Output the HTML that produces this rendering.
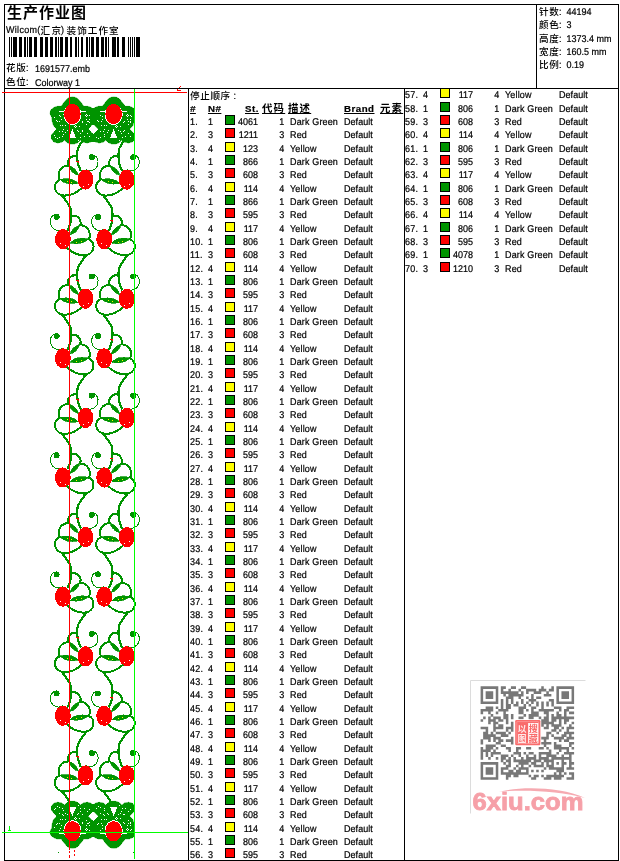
<!DOCTYPE html>
<html><head><meta charset="utf-8"><title>生产作业图</title>
<style>
html,body{margin:0;padding:0;background:#fff}
body{width:620px;height:861px;position:relative;overflow:hidden;font-family:"Liberation Sans","Noto Serif CJK SC",sans-serif;font-size:9px;color:#000;-webkit-text-stroke:0.2px #000}
.ln{position:absolute;background:#000}
.t{position:absolute;white-space:nowrap;line-height:12px}
.l{display:inline-block;transform:scaleY(1.09) rotate(0.03deg);transform-origin:0 9.4px;white-space:pre}
.cj{font-family:"Liberation Sans","Noto Sans CJK SC","Noto Serif CJK SC",sans-serif;font-size:9.6px;font-weight:500;letter-spacing:0.6px;-webkit-text-stroke:0}
.r{position:absolute;height:12px;width:215px;line-height:12px;white-space:nowrap}
.r span{position:absolute;top:0;transform:scaleY(1.09) rotate(0.03deg);transform-origin:0 9.4px}
.a{left:190px;letter-spacing:0.3px}.b{left:207.5px}.c{left:232.7px;width:25px;text-align:right}.d{left:268px;width:16.3px;text-align:right}
.e{left:289.6px;letter-spacing:0.15px}.f{left:344.4px;letter-spacing:0.05px}
.s{position:absolute;left:225px;top:-1px;width:8px;height:8px;border:1px solid #000}
.g{background:#009400}.rd{background:#f00}.y{background:#ff0}
.h{position:absolute;top:103px;font-weight:bold;font-size:9.7px;text-decoration:underline;line-height:12px;white-space:nowrap;letter-spacing:0.5px}
.h.cj{font-size:10.4px;letter-spacing:1.2px;font-weight:700;top:103px}
svg{position:absolute;left:0;top:0}
</style></head><body>
<div class="ln" style="left:4px;top:4px;width:615px;height:1px"></div>
<div class="ln" style="left:4px;top:860px;width:615px;height:1px"></div>
<div class="ln" style="left:4px;top:4px;width:1px;height:857px"></div>
<div class="ln" style="left:618px;top:4px;width:1px;height:857px"></div>
<div class="ln" style="left:4px;top:88px;width:615px;height:1px"></div>
<div class="ln" style="left:536px;top:4px;width:1px;height:84px"></div>
<div class="ln" style="left:188px;top:88px;width:1px;height:772px"></div>
<div class="ln" style="left:404px;top:88px;width:1px;height:772px"></div>

<div class="t" style="left:7px;top:3px;font:bold 15px/20px 'Liberation Sans','Noto Sans CJK SC','Noto Serif CJK SC',sans-serif;letter-spacing:1px;-webkit-text-stroke:0">生产作业图</div>
<div class="t" style="left:6px;top:24px"><span class="l" style="letter-spacing:0.3px">Wilcom(</span></div>
<div class="t" style="left:40.5px;top:25px"><span class="cj" style="letter-spacing:1.4px">汇京</span></div>
<div class="t" style="left:60.5px;top:24px"><span class="l">)</span></div>
<div class="t" style="left:66.5px;top:25px"><span class="cj" style="letter-spacing:1.05px">装饰工作室</span></div>
<div class="t" style="left:6px;top:62px"><span class="cj">花版</span><span class="l">:</span></div>
<div class="t" style="left:35px;top:63px"><span class="l">1691577.emb</span></div>
<div class="t" style="left:6px;top:76px"><span class="cj">色位</span><span class="l">:</span></div>
<div class="t" style="left:35px;top:77px"><span class="l">Colorway 1</span></div>

<div class="t" style="left:539px;top:6px"><span class="cj">针数</span><span class="l">:  44194</span></div>
<div class="t" style="left:539px;top:19px"><span class="cj">颜色</span><span class="l">:  3</span></div>
<div class="t" style="left:539px;top:33px"><span class="cj">高度</span><span class="l">:  1373.4 mm</span></div>
<div class="t" style="left:539px;top:46px"><span class="cj">宽度</span><span class="l">:  160.5 mm</span></div>
<div class="t" style="left:539px;top:59px"><span class="cj">比例</span><span class="l">:  0.19</span></div>

<div class="t" style="left:190px;top:90px"><span class="cj">停止顺序</span><span class="l"> :</span></div>
<div class="h" style="left:190px;font-style:italic">#</div>
<div class="h" style="left:208px">N#</div>
<div class="h" style="left:245px">St.</div>
<div class="h cj" style="left:262px">代码</div>
<div class="h cj" style="left:288px">描述</div>
<div class="h" style="left:344px">Brand</div>
<div class="h cj" style="left:380px">元素</div>

<div class="r" style="left:0px;top:116px"><span class="a">1.</span><span class="b">1</span><i class="s g"></i><span class="c">4061</span><span class="d">1</span><span class="e">Dark Green</span><span class="f">Default</span></div>
<div class="r" style="left:0px;top:129px"><span class="a">2.</span><span class="b">3</span><i class="s rd"></i><span class="c">1211</span><span class="d">3</span><span class="e">Red</span><span class="f">Default</span></div>
<div class="r" style="left:0px;top:143px"><span class="a">3.</span><span class="b">4</span><i class="s y"></i><span class="c">123</span><span class="d">4</span><span class="e">Yellow</span><span class="f">Default</span></div>
<div class="r" style="left:0px;top:156px"><span class="a">4.</span><span class="b">1</span><i class="s g"></i><span class="c">866</span><span class="d">1</span><span class="e">Dark Green</span><span class="f">Default</span></div>
<div class="r" style="left:0px;top:169px"><span class="a">5.</span><span class="b">3</span><i class="s rd"></i><span class="c">608</span><span class="d">3</span><span class="e">Red</span><span class="f">Default</span></div>
<div class="r" style="left:0px;top:183px"><span class="a">6.</span><span class="b">4</span><i class="s y"></i><span class="c">114</span><span class="d">4</span><span class="e">Yellow</span><span class="f">Default</span></div>
<div class="r" style="left:0px;top:196px"><span class="a">7.</span><span class="b">1</span><i class="s g"></i><span class="c">866</span><span class="d">1</span><span class="e">Dark Green</span><span class="f">Default</span></div>
<div class="r" style="left:0px;top:209px"><span class="a">8.</span><span class="b">3</span><i class="s rd"></i><span class="c">595</span><span class="d">3</span><span class="e">Red</span><span class="f">Default</span></div>
<div class="r" style="left:0px;top:223px"><span class="a">9.</span><span class="b">4</span><i class="s y"></i><span class="c">117</span><span class="d">4</span><span class="e">Yellow</span><span class="f">Default</span></div>
<div class="r" style="left:0px;top:236px"><span class="a">10.</span><span class="b">1</span><i class="s g"></i><span class="c">806</span><span class="d">1</span><span class="e">Dark Green</span><span class="f">Default</span></div>
<div class="r" style="left:0px;top:249px"><span class="a">11.</span><span class="b">3</span><i class="s rd"></i><span class="c">608</span><span class="d">3</span><span class="e">Red</span><span class="f">Default</span></div>
<div class="r" style="left:0px;top:263px"><span class="a">12.</span><span class="b">4</span><i class="s y"></i><span class="c">114</span><span class="d">4</span><span class="e">Yellow</span><span class="f">Default</span></div>
<div class="r" style="left:0px;top:276px"><span class="a">13.</span><span class="b">1</span><i class="s g"></i><span class="c">806</span><span class="d">1</span><span class="e">Dark Green</span><span class="f">Default</span></div>
<div class="r" style="left:0px;top:289px"><span class="a">14.</span><span class="b">3</span><i class="s rd"></i><span class="c">595</span><span class="d">3</span><span class="e">Red</span><span class="f">Default</span></div>
<div class="r" style="left:0px;top:303px"><span class="a">15.</span><span class="b">4</span><i class="s y"></i><span class="c">117</span><span class="d">4</span><span class="e">Yellow</span><span class="f">Default</span></div>
<div class="r" style="left:0px;top:316px"><span class="a">16.</span><span class="b">1</span><i class="s g"></i><span class="c">806</span><span class="d">1</span><span class="e">Dark Green</span><span class="f">Default</span></div>
<div class="r" style="left:0px;top:329px"><span class="a">17.</span><span class="b">3</span><i class="s rd"></i><span class="c">608</span><span class="d">3</span><span class="e">Red</span><span class="f">Default</span></div>
<div class="r" style="left:0px;top:343px"><span class="a">18.</span><span class="b">4</span><i class="s y"></i><span class="c">114</span><span class="d">4</span><span class="e">Yellow</span><span class="f">Default</span></div>
<div class="r" style="left:0px;top:356px"><span class="a">19.</span><span class="b">1</span><i class="s g"></i><span class="c">806</span><span class="d">1</span><span class="e">Dark Green</span><span class="f">Default</span></div>
<div class="r" style="left:0px;top:369px"><span class="a">20.</span><span class="b">3</span><i class="s rd"></i><span class="c">595</span><span class="d">3</span><span class="e">Red</span><span class="f">Default</span></div>
<div class="r" style="left:0px;top:383px"><span class="a">21.</span><span class="b">4</span><i class="s y"></i><span class="c">117</span><span class="d">4</span><span class="e">Yellow</span><span class="f">Default</span></div>
<div class="r" style="left:0px;top:396px"><span class="a">22.</span><span class="b">1</span><i class="s g"></i><span class="c">806</span><span class="d">1</span><span class="e">Dark Green</span><span class="f">Default</span></div>
<div class="r" style="left:0px;top:409px"><span class="a">23.</span><span class="b">3</span><i class="s rd"></i><span class="c">608</span><span class="d">3</span><span class="e">Red</span><span class="f">Default</span></div>
<div class="r" style="left:0px;top:423px"><span class="a">24.</span><span class="b">4</span><i class="s y"></i><span class="c">114</span><span class="d">4</span><span class="e">Yellow</span><span class="f">Default</span></div>
<div class="r" style="left:0px;top:436px"><span class="a">25.</span><span class="b">1</span><i class="s g"></i><span class="c">806</span><span class="d">1</span><span class="e">Dark Green</span><span class="f">Default</span></div>
<div class="r" style="left:0px;top:449px"><span class="a">26.</span><span class="b">3</span><i class="s rd"></i><span class="c">595</span><span class="d">3</span><span class="e">Red</span><span class="f">Default</span></div>
<div class="r" style="left:0px;top:463px"><span class="a">27.</span><span class="b">4</span><i class="s y"></i><span class="c">117</span><span class="d">4</span><span class="e">Yellow</span><span class="f">Default</span></div>
<div class="r" style="left:0px;top:476px"><span class="a">28.</span><span class="b">1</span><i class="s g"></i><span class="c">806</span><span class="d">1</span><span class="e">Dark Green</span><span class="f">Default</span></div>
<div class="r" style="left:0px;top:489px"><span class="a">29.</span><span class="b">3</span><i class="s rd"></i><span class="c">608</span><span class="d">3</span><span class="e">Red</span><span class="f">Default</span></div>
<div class="r" style="left:0px;top:503px"><span class="a">30.</span><span class="b">4</span><i class="s y"></i><span class="c">114</span><span class="d">4</span><span class="e">Yellow</span><span class="f">Default</span></div>
<div class="r" style="left:0px;top:516px"><span class="a">31.</span><span class="b">1</span><i class="s g"></i><span class="c">806</span><span class="d">1</span><span class="e">Dark Green</span><span class="f">Default</span></div>
<div class="r" style="left:0px;top:529px"><span class="a">32.</span><span class="b">3</span><i class="s rd"></i><span class="c">595</span><span class="d">3</span><span class="e">Red</span><span class="f">Default</span></div>
<div class="r" style="left:0px;top:543px"><span class="a">33.</span><span class="b">4</span><i class="s y"></i><span class="c">117</span><span class="d">4</span><span class="e">Yellow</span><span class="f">Default</span></div>
<div class="r" style="left:0px;top:556px"><span class="a">34.</span><span class="b">1</span><i class="s g"></i><span class="c">806</span><span class="d">1</span><span class="e">Dark Green</span><span class="f">Default</span></div>
<div class="r" style="left:0px;top:569px"><span class="a">35.</span><span class="b">3</span><i class="s rd"></i><span class="c">608</span><span class="d">3</span><span class="e">Red</span><span class="f">Default</span></div>
<div class="r" style="left:0px;top:583px"><span class="a">36.</span><span class="b">4</span><i class="s y"></i><span class="c">114</span><span class="d">4</span><span class="e">Yellow</span><span class="f">Default</span></div>
<div class="r" style="left:0px;top:596px"><span class="a">37.</span><span class="b">1</span><i class="s g"></i><span class="c">806</span><span class="d">1</span><span class="e">Dark Green</span><span class="f">Default</span></div>
<div class="r" style="left:0px;top:609px"><span class="a">38.</span><span class="b">3</span><i class="s rd"></i><span class="c">595</span><span class="d">3</span><span class="e">Red</span><span class="f">Default</span></div>
<div class="r" style="left:0px;top:623px"><span class="a">39.</span><span class="b">4</span><i class="s y"></i><span class="c">117</span><span class="d">4</span><span class="e">Yellow</span><span class="f">Default</span></div>
<div class="r" style="left:0px;top:636px"><span class="a">40.</span><span class="b">1</span><i class="s g"></i><span class="c">806</span><span class="d">1</span><span class="e">Dark Green</span><span class="f">Default</span></div>
<div class="r" style="left:0px;top:649px"><span class="a">41.</span><span class="b">3</span><i class="s rd"></i><span class="c">608</span><span class="d">3</span><span class="e">Red</span><span class="f">Default</span></div>
<div class="r" style="left:0px;top:663px"><span class="a">42.</span><span class="b">4</span><i class="s y"></i><span class="c">114</span><span class="d">4</span><span class="e">Yellow</span><span class="f">Default</span></div>
<div class="r" style="left:0px;top:676px"><span class="a">43.</span><span class="b">1</span><i class="s g"></i><span class="c">806</span><span class="d">1</span><span class="e">Dark Green</span><span class="f">Default</span></div>
<div class="r" style="left:0px;top:689px"><span class="a">44.</span><span class="b">3</span><i class="s rd"></i><span class="c">595</span><span class="d">3</span><span class="e">Red</span><span class="f">Default</span></div>
<div class="r" style="left:0px;top:703px"><span class="a">45.</span><span class="b">4</span><i class="s y"></i><span class="c">117</span><span class="d">4</span><span class="e">Yellow</span><span class="f">Default</span></div>
<div class="r" style="left:0px;top:716px"><span class="a">46.</span><span class="b">1</span><i class="s g"></i><span class="c">806</span><span class="d">1</span><span class="e">Dark Green</span><span class="f">Default</span></div>
<div class="r" style="left:0px;top:729px"><span class="a">47.</span><span class="b">3</span><i class="s rd"></i><span class="c">608</span><span class="d">3</span><span class="e">Red</span><span class="f">Default</span></div>
<div class="r" style="left:0px;top:743px"><span class="a">48.</span><span class="b">4</span><i class="s y"></i><span class="c">114</span><span class="d">4</span><span class="e">Yellow</span><span class="f">Default</span></div>
<div class="r" style="left:0px;top:756px"><span class="a">49.</span><span class="b">1</span><i class="s g"></i><span class="c">806</span><span class="d">1</span><span class="e">Dark Green</span><span class="f">Default</span></div>
<div class="r" style="left:0px;top:769px"><span class="a">50.</span><span class="b">3</span><i class="s rd"></i><span class="c">595</span><span class="d">3</span><span class="e">Red</span><span class="f">Default</span></div>
<div class="r" style="left:0px;top:783px"><span class="a">51.</span><span class="b">4</span><i class="s y"></i><span class="c">117</span><span class="d">4</span><span class="e">Yellow</span><span class="f">Default</span></div>
<div class="r" style="left:0px;top:796px"><span class="a">52.</span><span class="b">1</span><i class="s g"></i><span class="c">806</span><span class="d">1</span><span class="e">Dark Green</span><span class="f">Default</span></div>
<div class="r" style="left:0px;top:809px"><span class="a">53.</span><span class="b">3</span><i class="s rd"></i><span class="c">608</span><span class="d">3</span><span class="e">Red</span><span class="f">Default</span></div>
<div class="r" style="left:0px;top:823px"><span class="a">54.</span><span class="b">4</span><i class="s y"></i><span class="c">114</span><span class="d">4</span><span class="e">Yellow</span><span class="f">Default</span></div>
<div class="r" style="left:0px;top:836px"><span class="a">55.</span><span class="b">1</span><i class="s g"></i><span class="c">806</span><span class="d">1</span><span class="e">Dark Green</span><span class="f">Default</span></div>
<div class="r" style="left:0px;top:849px"><span class="a">56.</span><span class="b">3</span><i class="s rd"></i><span class="c">595</span><span class="d">3</span><span class="e">Red</span><span class="f">Default</span></div>
<div class="r" style="left:215px;top:89px"><span class="a">57.</span><span class="b">4</span><i class="s y"></i><span class="c">117</span><span class="d">4</span><span class="e">Yellow</span><span class="f">Default</span></div>
<div class="r" style="left:215px;top:103px"><span class="a">58.</span><span class="b">1</span><i class="s g"></i><span class="c">806</span><span class="d">1</span><span class="e">Dark Green</span><span class="f">Default</span></div>
<div class="r" style="left:215px;top:116px"><span class="a">59.</span><span class="b">3</span><i class="s rd"></i><span class="c">608</span><span class="d">3</span><span class="e">Red</span><span class="f">Default</span></div>
<div class="r" style="left:215px;top:129px"><span class="a">60.</span><span class="b">4</span><i class="s y"></i><span class="c">114</span><span class="d">4</span><span class="e">Yellow</span><span class="f">Default</span></div>
<div class="r" style="left:215px;top:143px"><span class="a">61.</span><span class="b">1</span><i class="s g"></i><span class="c">806</span><span class="d">1</span><span class="e">Dark Green</span><span class="f">Default</span></div>
<div class="r" style="left:215px;top:156px"><span class="a">62.</span><span class="b">3</span><i class="s rd"></i><span class="c">595</span><span class="d">3</span><span class="e">Red</span><span class="f">Default</span></div>
<div class="r" style="left:215px;top:169px"><span class="a">63.</span><span class="b">4</span><i class="s y"></i><span class="c">117</span><span class="d">4</span><span class="e">Yellow</span><span class="f">Default</span></div>
<div class="r" style="left:215px;top:183px"><span class="a">64.</span><span class="b">1</span><i class="s g"></i><span class="c">806</span><span class="d">1</span><span class="e">Dark Green</span><span class="f">Default</span></div>
<div class="r" style="left:215px;top:196px"><span class="a">65.</span><span class="b">3</span><i class="s rd"></i><span class="c">608</span><span class="d">3</span><span class="e">Red</span><span class="f">Default</span></div>
<div class="r" style="left:215px;top:209px"><span class="a">66.</span><span class="b">4</span><i class="s y"></i><span class="c">114</span><span class="d">4</span><span class="e">Yellow</span><span class="f">Default</span></div>
<div class="r" style="left:215px;top:223px"><span class="a">67.</span><span class="b">1</span><i class="s g"></i><span class="c">806</span><span class="d">1</span><span class="e">Dark Green</span><span class="f">Default</span></div>
<div class="r" style="left:215px;top:236px"><span class="a">68.</span><span class="b">3</span><i class="s rd"></i><span class="c">595</span><span class="d">3</span><span class="e">Red</span><span class="f">Default</span></div>
<div class="r" style="left:215px;top:249px"><span class="a">69.</span><span class="b">1</span><i class="s g"></i><span class="c">4078</span><span class="d">1</span><span class="e">Dark Green</span><span class="f">Default</span></div>
<div class="r" style="left:215px;top:263px"><span class="a">70.</span><span class="b">3</span><i class="s rd"></i><span class="c">1210</span><span class="d">3</span><span class="e">Red</span><span class="f">Default</span></div>

<svg width="620" height="861" viewBox="0 0 620 861">
<path d="M9 37h1v20h-1zM11 37h1v20h-1zM13 37h4v20h-4zM19 37h3v20h-3zM24 37h2v20h-2zM27 37h1v20h-1zM29 37h3v20h-3zM34 37h3v20h-3zM40 37h3v20h-3zM45 37h3v20h-3zM50 37h3v20h-3zM55 37h2v20h-2zM58 37h1v20h-1zM60 37h3v20h-3zM65 37h3v20h-3zM70 37h2v20h-2zM75 37h2v20h-2zM78 37h1v20h-1zM81 37h2v20h-2zM86 37h2v20h-2zM89 37h1v20h-1zM91 37h3v20h-3zM96 37h3v20h-3zM101 37h3v20h-3zM105 37h2v20h-2zM108 37h1v20h-1zM112 37h4v20h-4zM117 37h2v20h-2zM122 37h3v20h-3zM128 37h1v20h-1zM130 37h1v20h-1zM132 37h1v20h-1zM134 37h1v20h-1zM136 37h4v20h-4z" fill="#000" shape-rendering="crispEdges"/>
<defs><g id="u"><polygon points="0.3,-16.9 -2.5,-16.6 -5.2,-15.1 -8.6,-10.9 -11.1,-7.6 -15.3,-7.6 -18.6,-6.3 -21.6,-3.8 -22.0,0.0 -20.3,3.3 -19.9,7.5 -18.6,11.7 -15.3,15.1 -17.8,17.6 -20.7,20.9 -20.7,24.7 -18.6,27.7 -14.5,28.9 -10.3,28.1 -7.7,26.0 -5.2,28.5 -1.9,29.8 2.5,29.8 5.8,28.5 8.3,26.0 10.9,28.1 15.1,28.9 19.2,27.7 21.3,24.7 21.3,20.9 18.4,17.6 15.9,15.1 19.2,11.7 20.5,7.5 20.9,3.3 22.6,0.0 22.2,-3.8 19.2,-6.3 15.9,-7.6 11.7,-7.6 9.2,-10.9 5.8,-15.1 3.1,-16.6 0.3,-16.9" fill="#009400" stroke="#009400" stroke-width="0.6" stroke-linejoin="round"/><ellipse cx="0.2" cy="0.6" rx="9" ry="10.4" fill="#fff"/><path d="M-13.2,-3h6v1.1h-6zM7.6,-3h6v1.1h-6z" fill="#fff"/><path d="M0.2,15L-3.4,23.9H3.8z" fill="#fff"/><ellipse cx="0.2" cy="0" rx="8.3" ry="10.1" fill="#ff0000"/><path d="M-18.3,2.8h1v1h-1zM-13.3,0.7h1v1h-1zM-12.0,2.0h1v1h-1zM-16.6,6.2h1v1h-1zM-15.4,7.4h1v1h-1zM-12.9,7.0h1v1h-1zM-11.6,5.3h1v1h-1zM-12.4,10.8h1v1h-1zM-9.9,10.8h1v1h-1zM-7.4,10.8h1v1h-1zM-9.5,15.4h1v1h-1zM-10.3,16.7h1v1h-1zM-13.3,17.1h1v1h-1zM-7.0,17.5h1v1h-1zM-5.7,16.3h1v1h-1zM-18.3,20.9h1v1h-1zM-17.1,22.5h1v1h-1zM-15.4,23.8h1v1h-1zM-13.3,23.0h1v1h-1zM-9.9,22.1h1v1h-1zM-9.1,20.0h1v1h-1zM2.7,11.1h1v1h-1zM1.7,12.1h1v1h-1zM3.7,12.1h1v1h-1zM2.7,13.1h1v1h-1zM13.6,0.1h1v1h-1zM12.6,1.2h1v1h-1zM14.6,1.2h1v1h-1zM13.6,2.2h1v1h-1zM16.9,0.7h1v1h-1zM17.8,1.6h1v1h-1zM13.6,5.3h1v1h-1zM16.9,4.9h1v1h-1zM14.4,7.4h1v1h-1zM16.1,7.0h1v1h-1zM9.4,8.3h1v1h-1zM10.2,7.4h1v1h-1zM14.0,10.0h1v1h-1zM16.9,8.3h1v1h-1zM6.9,12.1h1v1h-1zM4.8,15.8h1v1h-1zM6.0,17.1h1v1h-1zM7.7,18.8h1v1h-1zM9.4,16.7h1v1h-1zM10.2,15.8h1v1h-1zM8.1,22.5h1v1h-1zM11.9,22.1h1v1h-1zM14.4,18.8h1v1h-1zM16.9,21.7h1v1h-1zM5.6,25.5h1v1h-1z" fill="#fff"/></g><g id="f"><path d="M-1,-43.7C2,-40 5.5,-35.5 7.3,-31.6C8.6,-28.5 8.7,-21 7.4,-15.9C6.8,-13.5 6,-11.5 5,-9.3" fill="none" stroke="#009400" stroke-width="2.2" stroke-linecap="round"/><path d="M8.2,-23C11,-24 14.4,-23.4 16.4,-20.4C17.8,-18.2 18.1,-16 17.3,-14.4M17,-14C20,-14 23.2,-12.8 25.3,-9.8C27.2,-6.8 27.6,-2.4 25.8,0M25.8,0C29,1.6 31,5 30.6,8.4C30,12.4 26.5,15.6 21.7,15.9C16,16.3 10,14.2 3.8,8.5" fill="none" stroke="#009400" stroke-width="2" stroke-linecap="round"/><path d="M7,-4.2Q9.2,-11.8 16.8,-14Q14.6,-6.2 7,-4.2Z" fill="#009400" stroke="#009400" stroke-width="0.7"/><path d="M7.3,3.8Q12.5,-2.6 25.8,-0.2Q19,6.2 7.3,3.8Z" fill="#009400" stroke="#009400" stroke-width="0.7"/><path d="M19.5,16.4L26,14L23.6,17.2L22,18.6Z" fill="#009400"/><path d="M0,-10C-3,-8.2 -7,-8.5 -10,-11C-12.6,-13.5 -13.1,-18 -12,-20.6C-11,-23 -9,-24.6 -6.5,-24.4" fill="none" stroke="#009400" stroke-width="1"/><circle cx="-6.3" cy="-22.3" r="3" fill="#009400"/><ellipse cx="0" cy="0" rx="7.9" ry="10.1" fill="#ff0000"/><path d="M13.5,2.4h1v1h-1zM17.6,1.4h1v1h-1z" fill="#ffff00"/><path d="M-3,4h1v1h-1zM2,6h1v1h-1z" fill="#fff"/></g></defs><g shape-rendering="crispEdges"><use href="#f" transform="translate(85.5,179.6) scale(-1,1)"/><path d="M76,161h3v1h-3zM78,162h1v1h-1z" fill="#ff0000"/><use href="#f" transform="translate(62.9,239.2)"/><use href="#f" transform="translate(85.5,298.8) scale(-1,1)"/><path d="M76,280h3v1h-3zM78,281h1v1h-1z" fill="#ff0000"/><use href="#f" transform="translate(62.9,358.3)"/><use href="#f" transform="translate(85.5,417.9) scale(-1,1)"/><path d="M76,399h3v1h-3zM78,400h1v1h-1z" fill="#ff0000"/><use href="#f" transform="translate(62.9,477.5)"/><use href="#f" transform="translate(85.5,537.1) scale(-1,1)"/><path d="M76,518h3v1h-3zM78,519h1v1h-1z" fill="#ff0000"/><use href="#f" transform="translate(62.9,596.7)"/><use href="#f" transform="translate(85.5,656.2) scale(-1,1)"/><path d="M76,637h3v1h-3zM78,638h1v1h-1z" fill="#ff0000"/><use href="#f" transform="translate(62.9,715.8)"/><use href="#f" transform="translate(85.5,775.4) scale(-1,1)"/><path d="M76,756h3v1h-3zM78,757h1v1h-1z" fill="#ff0000"/><path transform="translate(62.9,835.0)" d="M-1,-43.7C2,-40 5.5,-35.5 7.3,-31.6" fill="none" stroke="#009400" stroke-width="2.2"/><use href="#f" transform="translate(126.8,179.6) scale(-1,1)"/><use href="#f" transform="translate(104.2,239.2)"/><path d="M110,220h3v1h-3zM112,221h1v1h-1z" fill="#ff0000"/><use href="#f" transform="translate(126.8,298.8) scale(-1,1)"/><use href="#f" transform="translate(104.2,358.3)"/><path d="M110,339h3v1h-3zM112,340h1v1h-1z" fill="#ff0000"/><use href="#f" transform="translate(126.8,417.9) scale(-1,1)"/><use href="#f" transform="translate(104.2,477.5)"/><path d="M110,458h3v1h-3zM112,460h1v1h-1z" fill="#ff0000"/><use href="#f" transform="translate(126.8,537.1) scale(-1,1)"/><use href="#f" transform="translate(104.2,596.7)"/><path d="M110,578h3v1h-3zM112,579h1v1h-1z" fill="#ff0000"/><use href="#f" transform="translate(126.8,656.2) scale(-1,1)"/><use href="#f" transform="translate(104.2,715.8)"/><path d="M110,697h3v1h-3zM112,698h1v1h-1z" fill="#ff0000"/><use href="#f" transform="translate(126.8,775.4) scale(-1,1)"/><path transform="translate(104.2,835.0)" d="M-1,-43.7C2,-40 5.5,-35.5 7.3,-31.6" fill="none" stroke="#009400" stroke-width="2.2"/><use href="#u" transform="translate(72.2,114)"/><use href="#u" transform="translate(72.2,831.2) scale(1,-1)"/><use href="#u" transform="translate(113.5,114)"/><use href="#u" transform="translate(113.5,831.2) scale(1,-1)"/><rect x="90.14999999999999" y="108.0" width="6" height="17" fill="#009400"/><rect x="90.14999999999999" y="133.0" width="6" height="8.5" fill="#009400"/><path d="M88.2,129.1L93.1,124.2L98.0,129.1L93.1,134.0z" fill="#fff"/><rect x="90.14999999999999" y="820.2" width="6" height="17" fill="#009400"/><rect x="90.14999999999999" y="803.7" width="6" height="8.5" fill="#009400"/><path d="M88.2,816.1L93.1,811.2L98.0,816.1L93.1,821.0z" fill="#fff"/><path d="M135,95h8v52h-8zM135,799h8v51h-8z" fill="#fff"/></g><g shape-rendering="crispEdges"><rect x="2" y="92" width="185" height="1" fill="#ff0000"/><rect x="69" y="89" width="1" height="761" fill="#ff0000"/><path d="M69,851v2M69,855v3M74,850v2M74,854v2" stroke="#ff0000" stroke-width="1" fill="none" transform="translate(0.5,0)"/><rect x="134" y="89" width="1" height="770" fill="#00ff00"/><rect x="2" y="832" width="186" height="1" fill="#00ff00"/><path d="M9,826h1v5h-1zM8,830h3v1h-3z" fill="#00ff00"/><path d="M180,86h1v1h-1zM179,87h1v1h-1zM177,89h1v2h-1zM177,90h4v1h-4z" fill="#ff0000"/><rect x="58" y="852" width="1" height="1" fill="#009400"/><rect x="133" y="852" width="1" height="1" fill="#009400"/></g>
<g>
<path d="M470.5,813.5V680.5H585.5" fill="none" stroke="#dcdcdc" stroke-width="1"/>
<path d="M480.60,686.30h17.69v2.58h-17.69zM500.82,686.30h5.05v2.58h-5.05zM510.92,686.30h5.05v2.58h-5.05zM521.03,686.30h5.05v2.58h-5.05zM541.25,686.30h2.53v2.58h-2.53zM551.36,686.30h2.53v2.58h-2.53zM556.41,686.30h17.69v2.58h-17.69zM480.60,688.83h2.53v2.58h-2.53zM495.76,688.83h2.53v2.58h-2.53zM500.82,688.83h2.53v2.58h-2.53zM508.40,688.83h2.53v2.58h-2.53zM518.50,688.83h2.53v2.58h-2.53zM526.09,688.83h10.11v2.58h-10.11zM538.72,688.83h7.58v2.58h-7.58zM548.83,688.83h5.05v2.58h-5.05zM556.41,688.83h2.53v2.58h-2.53zM571.57,688.83h2.53v2.58h-2.53zM480.60,691.35h2.53v2.58h-2.53zM485.65,691.35h7.58v2.58h-7.58zM495.76,691.35h2.53v2.58h-2.53zM500.82,691.35h17.69v2.58h-17.69zM521.03,691.35h2.53v2.58h-2.53zM526.09,691.35h2.53v2.58h-2.53zM533.67,691.35h7.58v2.58h-7.58zM546.30,691.35h2.53v2.58h-2.53zM556.41,691.35h2.53v2.58h-2.53zM561.46,691.35h7.58v2.58h-7.58zM571.57,691.35h2.53v2.58h-2.53zM480.60,693.88h2.53v2.58h-2.53zM485.65,693.88h7.58v2.58h-7.58zM495.76,693.88h2.53v2.58h-2.53zM503.34,693.88h2.53v2.58h-2.53zM508.40,693.88h15.16v2.58h-15.16zM531.14,693.88h2.53v2.58h-2.53zM543.77,693.88h7.58v2.58h-7.58zM556.41,693.88h2.53v2.58h-2.53zM561.46,693.88h7.58v2.58h-7.58zM571.57,693.88h2.53v2.58h-2.53zM480.60,696.41h2.53v2.58h-2.53zM485.65,696.41h7.58v2.58h-7.58zM495.76,696.41h2.53v2.58h-2.53zM505.87,696.41h7.58v2.58h-7.58zM518.50,696.41h2.53v2.58h-2.53zM526.09,696.41h2.53v2.58h-2.53zM531.14,696.41h2.53v2.58h-2.53zM536.19,696.41h5.05v2.58h-5.05zM556.41,696.41h2.53v2.58h-2.53zM561.46,696.41h7.58v2.58h-7.58zM571.57,696.41h2.53v2.58h-2.53zM480.60,698.93h2.53v2.58h-2.53zM495.76,698.93h2.53v2.58h-2.53zM500.82,698.93h2.53v2.58h-2.53zM505.87,698.93h2.53v2.58h-2.53zM510.92,698.93h2.53v2.58h-2.53zM521.03,698.93h2.53v2.58h-2.53zM528.61,698.93h7.58v2.58h-7.58zM548.83,698.93h5.05v2.58h-5.05zM556.41,698.93h2.53v2.58h-2.53zM571.57,698.93h2.53v2.58h-2.53zM480.60,701.46h17.69v2.58h-17.69zM500.82,701.46h2.53v2.58h-2.53zM505.87,701.46h2.53v2.58h-2.53zM510.92,701.46h2.53v2.58h-2.53zM515.98,701.46h2.53v2.58h-2.53zM521.03,701.46h2.53v2.58h-2.53zM526.09,701.46h2.53v2.58h-2.53zM531.14,701.46h2.53v2.58h-2.53zM536.19,701.46h2.53v2.58h-2.53zM541.25,701.46h2.53v2.58h-2.53zM546.30,701.46h2.53v2.58h-2.53zM551.36,701.46h2.53v2.58h-2.53zM556.41,701.46h17.69v2.58h-17.69zM500.82,703.99h2.53v2.58h-2.53zM505.87,703.99h5.05v2.58h-5.05zM513.45,703.99h5.05v2.58h-5.05zM523.56,703.99h2.53v2.58h-2.53zM528.61,703.99h2.53v2.58h-2.53zM536.19,703.99h2.53v2.58h-2.53zM541.25,703.99h2.53v2.58h-2.53zM546.30,703.99h2.53v2.58h-2.53zM551.36,703.99h2.53v2.58h-2.53zM485.65,706.52h7.58v2.58h-7.58zM495.76,706.52h2.53v2.58h-2.53zM500.82,706.52h2.53v2.58h-2.53zM505.87,706.52h5.05v2.58h-5.05zM518.50,706.52h7.58v2.58h-7.58zM531.14,706.52h5.05v2.58h-5.05zM541.25,706.52h2.53v2.58h-2.53zM553.88,706.52h7.58v2.58h-7.58zM566.52,706.52h7.58v2.58h-7.58zM480.60,709.04h12.64v2.58h-12.64zM498.29,709.04h10.11v2.58h-10.11zM518.50,709.04h5.05v2.58h-5.05zM526.09,709.04h2.53v2.58h-2.53zM531.14,709.04h2.53v2.58h-2.53zM538.72,709.04h15.16v2.58h-15.16zM558.94,709.04h2.53v2.58h-2.53zM563.99,709.04h5.05v2.58h-5.05zM480.60,711.57h2.53v2.58h-2.53zM488.18,711.57h2.53v2.58h-2.53zM495.76,711.57h2.53v2.58h-2.53zM503.34,711.57h2.53v2.58h-2.53zM518.50,711.57h5.05v2.58h-5.05zM531.14,711.57h7.58v2.58h-7.58zM543.77,711.57h5.05v2.58h-5.05zM556.41,711.57h2.53v2.58h-2.53zM563.99,711.57h2.53v2.58h-2.53zM569.05,711.57h5.05v2.58h-5.05zM490.71,714.10h2.53v2.58h-2.53zM503.34,714.10h5.05v2.58h-5.05zM510.92,714.10h2.53v2.58h-2.53zM523.56,714.10h2.53v2.58h-2.53zM528.61,714.10h10.11v2.58h-10.11zM546.30,714.10h2.53v2.58h-2.53zM551.36,714.10h2.53v2.58h-2.53zM556.41,714.10h5.05v2.58h-5.05zM563.99,714.10h2.53v2.58h-2.53zM483.13,716.62h2.53v2.58h-2.53zM488.18,716.62h2.53v2.58h-2.53zM493.24,716.62h7.58v2.58h-7.58zM503.34,716.62h5.05v2.58h-5.05zM510.92,716.62h2.53v2.58h-2.53zM518.50,716.62h5.05v2.58h-5.05zM528.61,716.62h5.05v2.58h-5.05zM538.72,716.62h2.53v2.58h-2.53zM543.77,716.62h5.05v2.58h-5.05zM551.36,716.62h22.74v2.58h-22.74zM480.60,719.15h2.53v2.58h-2.53zM488.18,719.15h7.58v2.58h-7.58zM498.29,719.15h5.05v2.58h-5.05zM505.87,719.15h2.53v2.58h-2.53zM541.25,719.15h7.58v2.58h-7.58zM551.36,719.15h5.05v2.58h-5.05zM558.94,719.15h2.53v2.58h-2.53zM563.99,719.15h5.05v2.58h-5.05zM488.18,721.68h2.53v2.58h-2.53zM493.24,721.68h5.05v2.58h-5.05zM505.87,721.68h2.53v2.58h-2.53zM510.92,721.68h2.53v2.58h-2.53zM541.25,721.68h12.64v2.58h-12.64zM558.94,721.68h2.53v2.58h-2.53zM563.99,721.68h2.53v2.58h-2.53zM571.57,721.68h2.53v2.58h-2.53zM493.24,724.20h2.53v2.58h-2.53zM498.29,724.20h5.05v2.58h-5.05zM510.92,724.20h2.53v2.58h-2.53zM541.25,724.20h2.53v2.58h-2.53zM546.30,724.20h2.53v2.58h-2.53zM551.36,724.20h10.11v2.58h-10.11zM569.05,724.20h2.53v2.58h-2.53zM480.60,726.73h7.58v2.58h-7.58zM493.24,726.73h10.11v2.58h-10.11zM505.87,726.73h7.58v2.58h-7.58zM543.77,726.73h5.05v2.58h-5.05zM553.88,726.73h5.05v2.58h-5.05zM561.46,726.73h2.53v2.58h-2.53zM566.52,726.73h7.58v2.58h-7.58zM485.65,729.26h2.53v2.58h-2.53zM493.24,729.26h2.53v2.58h-2.53zM505.87,729.26h2.53v2.58h-2.53zM510.92,729.26h2.53v2.58h-2.53zM551.36,729.26h5.05v2.58h-5.05zM558.94,729.26h2.53v2.58h-2.53zM566.52,729.26h2.53v2.58h-2.53zM483.13,731.79h5.05v2.58h-5.05zM490.71,731.79h2.53v2.58h-2.53zM495.76,731.79h10.11v2.58h-10.11zM508.40,731.79h2.53v2.58h-2.53zM546.30,731.79h5.05v2.58h-5.05zM556.41,731.79h2.53v2.58h-2.53zM563.99,731.79h10.11v2.58h-10.11zM483.13,734.31h12.64v2.58h-12.64zM500.82,734.31h7.58v2.58h-7.58zM546.30,734.31h2.53v2.58h-2.53zM551.36,734.31h2.53v2.58h-2.53zM561.46,734.31h5.05v2.58h-5.05zM569.05,734.31h2.53v2.58h-2.53zM483.13,736.84h7.58v2.58h-7.58zM493.24,736.84h7.58v2.58h-7.58zM510.92,736.84h2.53v2.58h-2.53zM541.25,736.84h7.58v2.58h-7.58zM553.88,736.84h10.11v2.58h-10.11zM566.52,736.84h7.58v2.58h-7.58zM480.60,739.37h2.53v2.58h-2.53zM488.18,739.37h2.53v2.58h-2.53zM493.24,739.37h2.53v2.58h-2.53zM498.29,739.37h5.05v2.58h-5.05zM505.87,739.37h7.58v2.58h-7.58zM543.77,739.37h2.53v2.58h-2.53zM558.94,739.37h2.53v2.58h-2.53zM563.99,739.37h5.05v2.58h-5.05zM480.60,741.89h2.53v2.58h-2.53zM495.76,741.89h5.05v2.58h-5.05zM510.92,741.89h2.53v2.58h-2.53zM541.25,741.89h10.11v2.58h-10.11zM553.88,741.89h2.53v2.58h-2.53zM569.05,741.89h5.05v2.58h-5.05zM485.65,744.42h10.11v2.58h-10.11zM500.82,744.42h5.05v2.58h-5.05zM543.77,744.42h2.53v2.58h-2.53zM553.88,744.42h7.58v2.58h-7.58zM569.05,744.42h2.53v2.58h-2.53zM480.60,746.95h2.53v2.58h-2.53zM485.65,746.95h7.58v2.58h-7.58zM495.76,746.95h2.53v2.58h-2.53zM505.87,746.95h5.05v2.58h-5.05zM515.98,746.95h5.05v2.58h-5.05zM526.09,746.95h5.05v2.58h-5.05zM538.72,746.95h5.05v2.58h-5.05zM546.30,746.95h2.53v2.58h-2.53zM553.88,746.95h15.16v2.58h-15.16zM571.57,746.95h2.53v2.58h-2.53zM480.60,749.47h10.11v2.58h-10.11zM493.24,749.47h2.53v2.58h-2.53zM508.40,749.47h2.53v2.58h-2.53zM515.98,749.47h2.53v2.58h-2.53zM548.83,749.47h2.53v2.58h-2.53zM558.94,749.47h2.53v2.58h-2.53zM566.52,749.47h2.53v2.58h-2.53zM480.60,752.00h2.53v2.58h-2.53zM485.65,752.00h2.53v2.58h-2.53zM490.71,752.00h10.11v2.58h-10.11zM513.45,752.00h7.58v2.58h-7.58zM523.56,752.00h2.53v2.58h-2.53zM528.61,752.00h5.05v2.58h-5.05zM538.72,752.00h12.64v2.58h-12.64zM556.41,752.00h2.53v2.58h-2.53zM563.99,752.00h10.11v2.58h-10.11zM480.60,754.53h2.53v2.58h-2.53zM485.65,754.53h2.53v2.58h-2.53zM490.71,754.53h2.53v2.58h-2.53zM500.82,754.53h7.58v2.58h-7.58zM510.92,754.53h2.53v2.58h-2.53zM518.50,754.53h2.53v2.58h-2.53zM526.09,754.53h2.53v2.58h-2.53zM533.67,754.53h2.53v2.58h-2.53zM538.72,754.53h2.53v2.58h-2.53zM546.30,754.53h10.11v2.58h-10.11zM561.46,754.53h2.53v2.58h-2.53zM569.05,754.53h2.53v2.58h-2.53zM480.60,757.06h2.53v2.58h-2.53zM488.18,757.06h2.53v2.58h-2.53zM495.76,757.06h2.53v2.58h-2.53zM500.82,757.06h5.05v2.58h-5.05zM508.40,757.06h2.53v2.58h-2.53zM513.45,757.06h2.53v2.58h-2.53zM521.03,757.06h2.53v2.58h-2.53zM526.09,757.06h10.11v2.58h-10.11zM538.72,757.06h10.11v2.58h-10.11zM551.36,757.06h20.22v2.58h-20.22zM500.82,759.58h2.53v2.58h-2.53zM505.87,759.58h5.05v2.58h-5.05zM513.45,759.58h17.69v2.58h-17.69zM533.67,759.58h7.58v2.58h-7.58zM543.77,759.58h10.11v2.58h-10.11zM561.46,759.58h2.53v2.58h-2.53zM569.05,759.58h2.53v2.58h-2.53zM480.60,762.11h17.69v2.58h-17.69zM503.34,762.11h2.53v2.58h-2.53zM508.40,762.11h2.53v2.58h-2.53zM518.50,762.11h10.11v2.58h-10.11zM531.14,762.11h5.05v2.58h-5.05zM541.25,762.11h2.53v2.58h-2.53zM546.30,762.11h2.53v2.58h-2.53zM551.36,762.11h2.53v2.58h-2.53zM556.41,762.11h2.53v2.58h-2.53zM561.46,762.11h5.05v2.58h-5.05zM569.05,762.11h5.05v2.58h-5.05zM480.60,764.64h2.53v2.58h-2.53zM495.76,764.64h2.53v2.58h-2.53zM505.87,764.64h5.05v2.58h-5.05zM515.98,764.64h2.53v2.58h-2.53zM521.03,764.64h2.53v2.58h-2.53zM528.61,764.64h2.53v2.58h-2.53zM533.67,764.64h10.11v2.58h-10.11zM546.30,764.64h7.58v2.58h-7.58zM561.46,764.64h2.53v2.58h-2.53zM569.05,764.64h2.53v2.58h-2.53zM480.60,767.16h2.53v2.58h-2.53zM485.65,767.16h7.58v2.58h-7.58zM495.76,767.16h2.53v2.58h-2.53zM500.82,767.16h7.58v2.58h-7.58zM513.45,767.16h2.53v2.58h-2.53zM518.50,767.16h10.11v2.58h-10.11zM543.77,767.16h2.53v2.58h-2.53zM548.83,767.16h15.16v2.58h-15.16zM566.52,767.16h7.58v2.58h-7.58zM480.60,769.69h2.53v2.58h-2.53zM485.65,769.69h7.58v2.58h-7.58zM495.76,769.69h2.53v2.58h-2.53zM500.82,769.69h2.53v2.58h-2.53zM508.40,769.69h5.05v2.58h-5.05zM515.98,769.69h5.05v2.58h-5.05zM526.09,769.69h2.53v2.58h-2.53zM531.14,769.69h2.53v2.58h-2.53zM536.19,769.69h2.53v2.58h-2.53zM541.25,769.69h2.53v2.58h-2.53zM556.41,769.69h7.58v2.58h-7.58zM480.60,772.22h2.53v2.58h-2.53zM485.65,772.22h7.58v2.58h-7.58zM495.76,772.22h2.53v2.58h-2.53zM500.82,772.22h27.80v2.58h-27.80zM553.88,772.22h2.53v2.58h-2.53zM558.94,772.22h2.53v2.58h-2.53zM563.99,772.22h2.53v2.58h-2.53zM569.05,772.22h5.05v2.58h-5.05zM480.60,774.75h2.53v2.58h-2.53zM495.76,774.75h2.53v2.58h-2.53zM505.87,774.75h5.05v2.58h-5.05zM513.45,774.75h5.05v2.58h-5.05zM528.61,774.75h2.53v2.58h-2.53zM533.67,774.75h5.05v2.58h-5.05zM541.25,774.75h2.53v2.58h-2.53zM546.30,774.75h17.69v2.58h-17.69zM571.57,774.75h2.53v2.58h-2.53zM480.60,777.27h17.69v2.58h-17.69zM505.87,777.27h2.53v2.58h-2.53zM531.14,777.27h5.05v2.58h-5.05zM543.77,777.27h7.58v2.58h-7.58zM553.88,777.27h7.58v2.58h-7.58zM566.52,777.27h7.58v2.58h-7.58z" fill="#787878"/>
<rect x="514.6" y="719.5" width="26.4" height="26.4" fill="#fff"/>
<rect x="515.2" y="720.1" width="25.2" height="25.2" rx="1.2" fill="#f96b6b"/>
<rect x="516.9" y="721.8" width="21.8" height="21.8" fill="none" stroke="#fcb4b4" stroke-width="0.5"/>
<rect x="528.1" y="723" width="10.2" height="20.2" fill="#fff5f5"/>
<text x="517.6" y="732" font-family="'Liberation Sans','Noto Sans CJK SC',sans-serif" font-size="9" font-weight="bold" fill="#ffe9e9">以</text>
<text x="517.6" y="742" font-family="'Liberation Sans','Noto Sans CJK SC',sans-serif" font-size="9" font-weight="bold" fill="#ffe9e9">图</text>
<text x="528.7" y="732.2" font-family="'Liberation Sans','Noto Sans CJK SC',sans-serif" font-size="9" font-weight="bold" fill="#f96b6b">搜</text>
<text x="528.7" y="742" font-family="'Liberation Sans','Noto Sans CJK SC',sans-serif" font-size="9" font-weight="bold" fill="#f96b6b">藏</text>
<path d="M499,791.8C520,786.4 560,786.6 585,798C560,790.6 520,789.4 499,791.8z" fill="#f6aab1"/>
<text x="472.5" y="810" font-family="'Liberation Sans',sans-serif" font-size="24" font-weight="bold" fill="#f6a0a8" stroke="#f6a0a8" stroke-width="0.8" textLength="111" lengthAdjust="spacingAndGlyphs">6xiu.com</text>
</g>
</svg>
</body></html>
